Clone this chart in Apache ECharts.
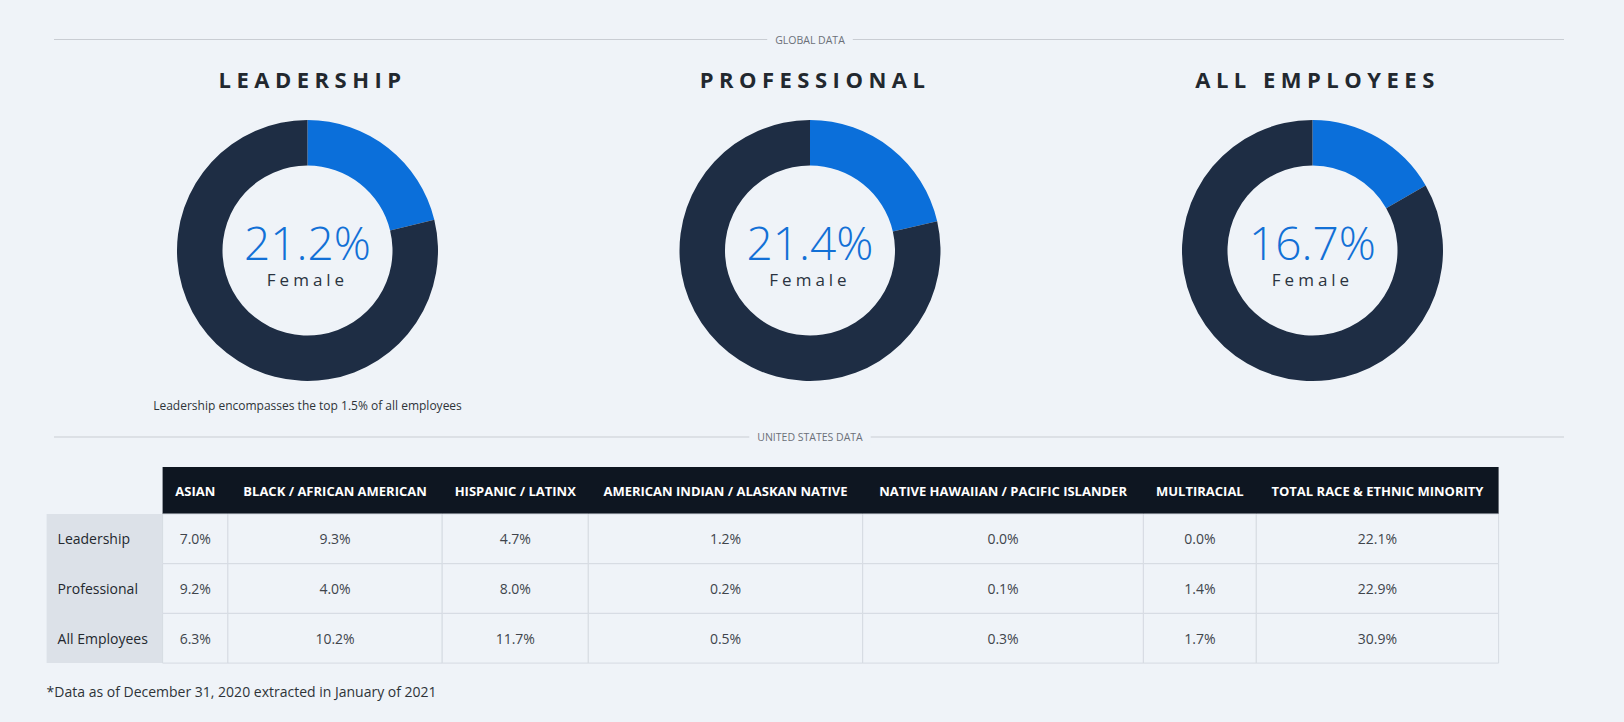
<!DOCTYPE html>
<html><head><meta charset="utf-8">
<script src="https://cdn.jsdelivr.net/npm/echarts@6/dist/echarts.min.js"></script>
<style>html,body{margin:0;padding:0;background:#eff3f8;}#main{width:1624px;height:722px;}</style>
</head><body><div id="main"></div>
<script>
// ---- data ----
const groups = ['LEADERSHIP', 'PROFESSIONAL', 'ALL EMPLOYEES'];
const femalePct = [21.2, 21.4, 16.7];
const tableColumns = ['ASIAN', 'BLACK / AFRICAN AMERICAN', 'HISPANIC / LATINX', 'AMERICAN INDIAN / ALASKAN NATIVE', 'NATIVE HAWAIIAN / PACIFIC ISLANDER', 'MULTIRACIAL', 'TOTAL RACE & ETHNIC MINORITY'];
const tableRows = ['Leadership', 'Professional', 'All Employees'];
const leadershipVals = [7.0, 9.3, 4.7, 1.2, 0.0, 0.0, 22.1];
const professionalVals = [9.2, 4.0, 8.0, 0.2, 0.1, 1.4, 22.9];
const allEmployeesVals = [6.3, 10.2, 11.7, 0.5, 0.3, 1.7, 30.9];
const tableValues = [leadershipVals, professionalVals, allEmployeesVals];

// ---- layout ----
const FONT = "'Open Sans', 'Noto Sans', sans-serif";
const pieCentersX = [307.5, 810, 1312.5];
const pieCenterY = 250.5;
const tableLeft = 46.6;
const colWidths = [116, 65.3, 214.3, 146.1, 274.4, 280.7, 112.9, 242.3];
const headerTop = 467, headerH = 47, rowH = 49.7;

const chart = echarts.init(document.getElementById('main'), null, {renderer: 'svg'});

const graphic = [];
function sectionLabel(text, y) {
  graphic.push({type: 'line', shape: {x1: 54, y1: y, x2: 1564, y2: y}, style: {stroke: '#c9cdd3', lineWidth: 1}, silent: true});
  graphic.push({type: 'text', x: 810, y: y, style: {text: text, font: '10.5px ' + FONT, fill: '#6b7078', align: 'center', verticalAlign: 'middle', backgroundColor: '#eff3f8', padding: [2, 8]}, silent: true});
}
sectionLabel('GLOBAL DATA', 39.5);
sectionLabel('UNITED STATES DATA', 437);

graphic.push({type: 'text', x: 307.5, y: 405, style: {text: 'Leadership encompasses the top 1.5% of all employees', font: '12px ' + FONT, fill: '#2e3338', align: 'center', verticalAlign: 'middle'}, silent: true});
graphic.push({type: 'text', x: 46.6, y: 691, style: {text: '*Data as of December 31, 2020 extracted in January of 2021', font: '14px ' + FONT, fill: '#2e3338', align: 'left', verticalAlign: 'middle'}, silent: true});

// table
const colX = [tableLeft];
colWidths.forEach((w, i) => colX.push(colX[i] + w));
const tableRight = colX[colX.length - 1];
graphic.push({type: 'rect', shape: {x: colX[1], y: headerTop, width: tableRight - colX[1], height: headerH}, style: {fill: '#0e1621'}, silent: true});
tableColumns.forEach((c, j) => {
  graphic.push({type: 'text', x: (colX[j + 1] + colX[j + 2]) / 2, y: headerTop + headerH / 2, style: {text: c, font: 'bold 13px ' + FONT, fill: '#ffffff', align: 'center', verticalAlign: 'middle'}, silent: true});
});
const bodyTop = headerTop + headerH;
graphic.push({type: 'rect', shape: {x: colX[0], y: bodyTop, width: colWidths[0], height: rowH * tableRows.length}, style: {fill: '#dce1e8'}, silent: true});
tableRows.forEach((r, i) => {
  const y0 = bodyTop + i * rowH;
  graphic.push({type: 'text', x: colX[0] + 11, y: y0 + rowH / 2, style: {text: r, font: '14px ' + FONT, fill: '#23282e', align: 'left', verticalAlign: 'middle'}, silent: true});
  tableValues[i].forEach((v, j) => {
    graphic.push({type: 'rect', shape: {x: colX[j + 1], y: y0, width: colWidths[j + 1], height: rowH}, style: {fill: '#eff3f8', stroke: '#d6dbe2', lineWidth: 1}, silent: true});
    graphic.push({type: 'text', x: (colX[j + 1] + colX[j + 2]) / 2, y: y0 + rowH / 2, style: {text: v.toFixed(1) + '%', font: '14px ' + FONT, fill: '#40454c', align: 'center', verticalAlign: 'middle'}, silent: true});
  });
});

const option = {
  backgroundColor: '#eff3f8',
  animation: false,
  title: groups.map((g, i) => ({
    text: g, left: pieCentersX[i], top: 61, textAlign: 'center',
    textStyle: {fontFamily: FONT, fontWeight: 'bold', fontSize: 22, color: '#22282f', lineHeight: 26}
  })),
  graphic: graphic,
  series: groups.map((g, i) => ({
    type: 'pie', center: [pieCentersX[i], pieCenterY], radius: [85, 130.5],
    startAngle: 90, clockwise: true, silent: true, animation: false,
    label: {show: false}, labelLine: {show: false},
    itemStyle: {borderWidth: 0},
    data: [
      {value: femalePct[i], name: 'Female', itemStyle: {color: '#0b6fda'},
        label: {show: true, position: 'center', padding: [12, 0, 0, 0],
          formatter: p => '{v|' + p.value.toFixed(1) + '%}\n{f|Female}',
          rich: {
            v: {fontFamily: FONT, fontWeight: 300, fontSize: 46, color: '#1270d6', lineHeight: 46},
            f: {fontFamily: FONT, fontSize: 17, color: '#2a3340', lineHeight: 29}
          }}},
      {value: +(100 - femalePct[i]).toFixed(1), name: 'Other', itemStyle: {color: '#1e2d44'}}
    ]
  }))
};
chart.setOption(option);

function applySpacing() {
  document.querySelectorAll('#main svg text').forEach(t => {
    const s = t.textContent;
    if (groups.indexOf(s) >= 0) t.setAttribute('letter-spacing', '5.5');
    else if (s === 'Female') t.setAttribute('letter-spacing', '4');
  });
}
applySpacing();
chart.on('finished', applySpacing);
setTimeout(applySpacing, 50);
</script>
</body></html>
